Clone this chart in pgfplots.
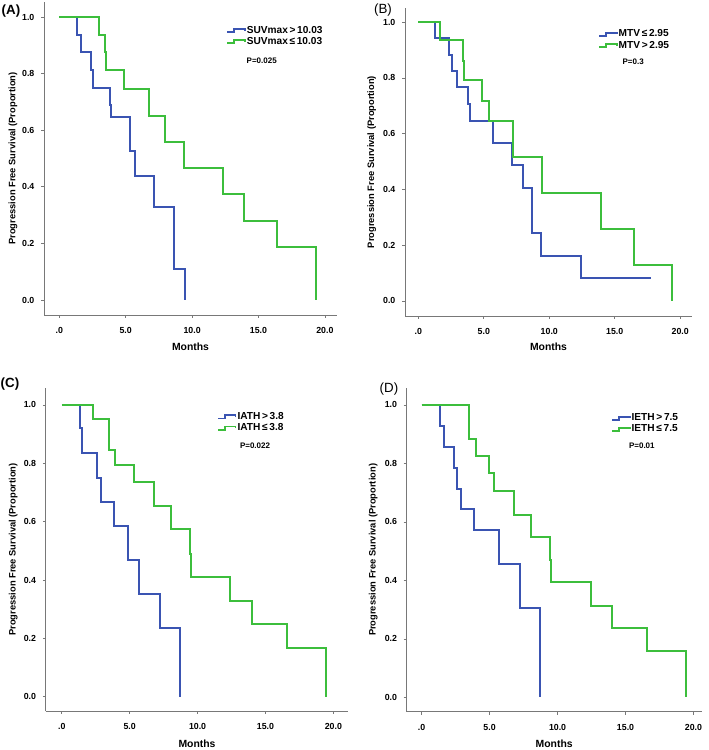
\documentclass[border=0pt]{standalone}
\usepackage{fontspec}
\setmainfont{Liberation Sans}
\usepackage{pgfplots}
\pgfplotsset{compat=1.18}
\definecolor{kmblue}{RGB}{58,84,178}
\definecolor{kmgreen}{RGB}{60,190,60}
\definecolor{axgray}{RGB}{120,120,120}
\pgfplotsset{
  kmaxis/.style={
    scale only axis, anchor=south west,
    axis lines=left, axis line style={-, draw=axgray, line width=0.6pt},
    tick style={draw=axgray, line width=0.5pt}, tick align=outside, major tick length=2.2pt,
    xtick={0,5,10,15,20}, xticklabels={.0,5.0,10.0,15.0,20.0},
    ytick={0,0.2,0.4,0.6,0.8,1.0}, yticklabels={0.0,0.2,0.4,0.6,0.8,1.0},
    tick label style={font=\bfseries\fontsize{6.6}{7.5}\selectfont, text=black},
    xticklabel style={yshift=-3.5pt},
    yticklabel style={xshift=-1.5pt},
    xlabel={Months}, ylabel={Progression Free Survival (Proportion)},
    xlabel style={font=\bfseries\fontsize{7.8}{9}\selectfont, at={(axis description cs:0.5,-0.1)}, anchor=center},
    ylabel style={font=\bfseries\fontsize{7}{8}\selectfont, anchor=center},
    legend cell align=left,
    legend style={draw=none, fill=none, anchor=west, font=\bfseries\fontsize{7.6}{8.5}\selectfont,
      inner sep=0pt, nodes={inner sep=0.8pt}},
    legend image code/.code={\draw[#1, line width=1.4pt, line join=miter] (0pt,-1.2pt) -- (5pt,-1.2pt) -- (5pt,1.3pt) -- (13pt,1.3pt) -- (13pt,0pt);},
    clip=false,
  },
  kmb/.style={const plot, color=kmblue, line width=1.5pt, mark=none},
  kmg/.style={const plot, color=kmgreen, line width=1.5pt, mark=none},
}
\begin{document}
\begin{tikzpicture}
\path[use as bounding box] (0pt,0pt) rectangle (531.75pt,-562.5pt);
% Panel labels
\node[font=\bfseries\fontsize{10}{12}\selectfont] at (8.25pt,-8.6pt) {(A)};
\node[font=\fontsize{10}{12}\selectfont] at (287.25pt,-7.5pt) {(B)};
\node[font=\bfseries\fontsize{10}{12}\selectfont] at (7.5pt,-288pt) {(C)};
\node[font=\fontsize{10}{12}\selectfont] at (291.75pt,-291.75pt) {(D)};

% (A)
\begin{axis}[kmaxis, at={(33pt,-236.25pt)}, width=219.75pt, height=234.75pt,
  xmin=-1.152, xmax=20.91, ymin=-0.053, ymax=1.053,
  ylabel style={at={(axis description cs:-0.106,0.5)}},
  legend style={at={(axis description cs:0.622,0.891)}}]
\addplot[kmb] coordinates {(0,1) (1.30,0.9375) (1.63,0.875) (2.36,0.8125) (2.53,0.75) (3.79,0.6875) (3.89,0.647) (5.32,0.528) (5.70,0.439) (7.15,0.329) (8.63,0.111) (9.46,0)};
\addlegendentry{SUVmax\,>\,10.03}
\addplot[kmg] coordinates {(0,1) (2.96,0.9375) (3.46,0.875) (3.50,0.8125) (4.89,0.746) (6.75,0.651) (7.93,0.558) (9.36,0.465) (12.35,0.373) (13.93,0.28) (16.41,0.186) (19.35,0)};
\addlegendentry{SUVmax\,≤\,10.03}
\node[font=\bfseries\fontsize{6}{7}\selectfont] at (axis cs:15.24,0.846) {P=0.025};
\end{axis}

% (B)
\begin{axis}[kmaxis, at={(303.75pt,-237pt)}, width=215.25pt, height=231pt,
  xmin=-1.02, xmax=20.9, ymin=-0.054, ymax=1.051,
  ylabel style={at={(axis description cs:-0.116,0.5)}},
  legend style={at={(axis description cs:0.673,0.896)}}]
\addplot[kmb] coordinates {(0,1) (1.30,0.943) (2.32,0.883) (2.55,0.825) (2.98,0.767) (3.82,0.706) (3.95,0.647) (5.73,0.566) (7.13,0.486) (8.03,0.404) (8.66,0.243) (9.35,0.161) (12.41,0.083) (17.76,0.083)};
\addlegendentry{MTV\,≤\,2.95}
\addplot[kmg] coordinates {(0,1) (1.66,0.935) (3.44,0.86) (3.48,0.793) (4.87,0.719) (5.38,0.647) (7.21,0.518) (9.43,0.386) (13.94,0.258) (16.46,0.129) (19.36,0)};
\addlegendentry{MTV\,>\,2.95}
\node[font=\bfseries\fontsize{6}{7}\selectfont] at (axis cs:16.41,0.859) {P=0.3};
\end{axis}

% (C)
\begin{axis}[kmaxis, at={(34.3pt,-533.25pt)}, width=226.95pt, height=242.25pt,
  xmin=-1.18, xmax=21.1, ymin=-0.049, ymax=1.058,
  ylabel style={at={(axis description cs:-0.107,0.5)}},
  legend style={at={(axis description cs:0.566,0.893)}}]
\addplot[kmb] coordinates {(0,1) (1.35,0.92) (1.52,0.834) (2.58,0.751) (2.90,0.669) (3.85,0.585) (4.91,0.469) (5.72,0.352) (7.24,0.234) (8.74,0)};
\addlegendentry{IATH\,>\,3.8}
\addplot[kmg] coordinates {(0,1) (2.33,0.951) (3.46,0.90) (3.50,0.846) (3.95,0.794) (5.35,0.737) (6.80,0.655) (8.02,0.574) (9.47,0.49) (9.51,0.411) (12.39,0.328) (13.99,0.248) (16.56,0.166) (19.46,0)};
\addlegendentry{IATH\,≤\,3.8}
\node[font=\bfseries\fontsize{6}{7}\selectfont] at (axis cs:14.23,0.860) {P=0.022};
\end{axis}

% (D)
\begin{axis}[kmaxis, at={(305pt,-533.8pt)}, width=221.25pt, height=242.8pt,
  xmin=-1.10, xmax=20.6, ymin=-0.049, ymax=1.058,
  ylabel style={at={(axis description cs:-0.113,0.5)}},
  legend style={at={(axis description cs:0.693,0.889)}}]
\addplot[kmb] coordinates {(0,1) (1.35,0.929) (1.67,0.857) (2.36,0.786) (2.58,0.714) (2.90,0.643) (3.85,0.571) (5.72,0.457) (7.21,0.305) (8.74,0)};
\addlegendentry{IETH\,>\,7.5}
\addplot[kmg] coordinates {(0,1) (3.48,0.94) (3.52,0.882) (3.98,0.825) (4.98,0.766) (5.35,0.705) (6.82,0.623) (8.02,0.55) (9.47,0.47) (9.51,0.394) (12.47,0.314) (13.99,0.237) (16.56,0.159) (19.46,0)};
\addlegendentry{IETH\,≤\,7.5}
\node[font=\bfseries\fontsize{6}{7}\selectfont] at (axis cs:16.2,0.860) {P=0.01};
\end{axis}
\end{tikzpicture}
\end{document}
